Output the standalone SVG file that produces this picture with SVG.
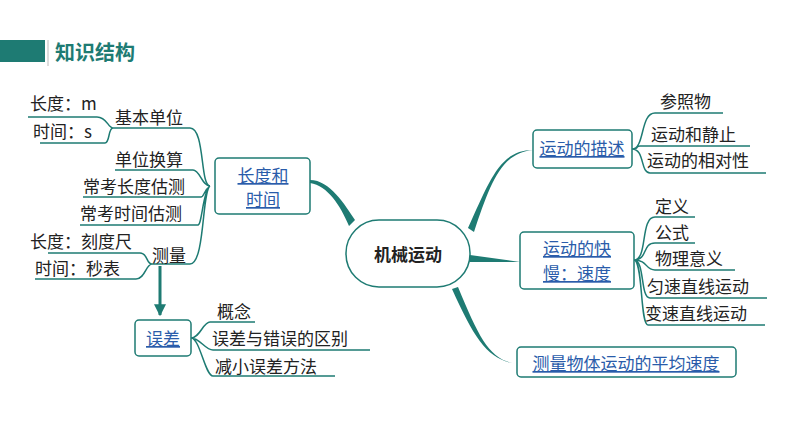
<svg xmlns="http://www.w3.org/2000/svg" width="794" height="447" viewBox="0 0 794 447">
<style>
.t{font-family:"Noto Sans CJK SC","Liberation Sans",sans-serif;font-size:17px;fill:#222}
.l{font-family:"Noto Sans CJK SC","Liberation Sans",sans-serif;font-size:17px;fill:#2a5caa;text-decoration:underline}
.u{stroke:#1e7b73;stroke-width:1.5;fill:none}
.b{stroke:#1e7b73;stroke-width:1.5;fill:#fff}
.m{fill:#1e7b73}
</style>
<defs><marker id="ar" viewBox="0 0 10 10" refX="9" refY="5" markerWidth="4" markerHeight="4" orient="auto"><path d="M0,0L10,5L0,10z" fill="#1e7b73"/></marker></defs>
<rect x="0" y="40" width="45" height="22" fill="#1e7b73"/>
<line x1="48" y1="40" x2="48" y2="66" stroke="#ddd" stroke-width="2"/>
<text x="55" y="60" font-family="Noto Sans CJK SC,sans-serif" font-size="20" font-weight="bold" fill="#1e7b73">知识结构</text>
<g id="connectors">
<path class="m" d="M310,180 C330,180 345,205 355,220 L349,226 C340,205 328,186 310,183z"/>
<path class="m" d="M468,228 C490,180 500,150 533,150 C500,153 490,185 474,232z"/>
<path class="m" d="M470,255 L520,262 L470,262z"/>
<path class="m" d="M458,287 C480,340 490,360 517,364 C488,360 475,340 452,289z"/>
<path class="u" d="M210,186 C200,186 205,128 190,128 L113,128 M113,128 C108,128 110,143 105,143 L40,143 M113,128 C108,128 107,117 97,117 L28,117"/>
<path class="u" d="M210,186 C202,186 200,170 193,170 L115,170 M210,186 C204,190 204,197 201,197 L83,197 M210,186 C203,190 202,225 198,225 L80,225 M210,186 C202,190 205,264 190,264 L152,264 M152,264 C146,264 148,253 140,253 L48,253 M152,264 C146,264 145,279 136,279 L35,279"/>
<line x1="160" y1="266" x2="160" y2="315" stroke="#1e7b73" stroke-width="3" marker-end="url(#ar)"/>
<path class="u" d="M191,338 C200,338 203,322 210,322 L255,322 M191,338 C200,338 205,350 213,350 L370,350 M191,338 C200,338 205,376 213,376 L335,376"/>
<path class="u" d="M632,149 C645,149 640,113 655,113 L723,113 M632,149 C640,149 635,146 640,146 L750,146 M632,149 C645,149 640,173 650,173 L766,173"/>
<path class="u" d="M634,260 C648,260 640,217 655,217 L695,217 M634,260 C648,260 642,243 655,243 L695,243 M634,260 C648,260 645,270 655,270 L735,270 M634,260 C645,260 640,298 650,298 L767,298 M634,260 C643,260 640,325 648,325 L765,325"/>
</g>
<g id="center"><rect x="346" y="220" width="124" height="67" rx="33" class="b" stroke-width="2"/><text x="408" y="261" class="t" font-weight="bold" text-anchor="middle">机械运动</text></g>
<g id="len"><rect x="215" y="158" width="95" height="56" rx="4" class="b"/><text x="263" y="182" class="l" text-anchor="middle">长度和</text><text x="263" y="206" class="l" text-anchor="middle">时间</text></g>
<g id="err"><rect x="135" y="320" width="56" height="36" rx="4" class="b"/><text x="163" y="345" class="l" text-anchor="middle">误差</text></g>
<g id="desc"><rect x="533" y="130" width="99" height="38" rx="4" class="b"/><text x="582" y="155" class="l" text-anchor="middle">运动的描述</text></g>
<g id="speed"><rect x="520" y="232" width="114" height="57" rx="4" class="b"/><text x="577" y="255" class="l" text-anchor="middle">运动的快</text><text x="577" y="280" class="l" text-anchor="middle">慢：速度</text></g>
<g id="avg"><rect x="517" y="347" width="219" height="30" rx="4" class="b"/><text x="626" y="370" class="l" text-anchor="middle">测量物体运动的平均速度</text></g>
<g id="leaves">
<text x="30" y="110" class="t">长度：m</text>
<text x="33" y="138" class="t">时间：s</text>
<text x="115" y="124" class="t">基本单位</text>
<text x="115" y="166" class="t">单位换算</text>
<text x="83" y="193" class="t">常考长度估测</text>
<text x="80" y="220" class="t">常考时间估测</text>
<text x="30" y="248" class="t">长度：刻度尺</text>
<text x="35" y="275" class="t">时间：秒表</text>
<text x="152" y="262" class="t">测量</text>
<text x="217" y="318" class="t">概念</text>
<text x="212" y="345" class="t">误差与错误的区别</text>
<text x="215" y="373" class="t">减小误差方法</text>
<text x="660" y="108" class="t">参照物</text>
<text x="651" y="141" class="t">运动和静止</text>
<text x="647" y="167" class="t">运动的相对性</text>
<text x="655" y="213" class="t">定义</text>
<text x="655" y="239" class="t">公式</text>
<text x="655" y="265" class="t">物理意义</text>
<text x="647" y="293" class="t">匀速直线运动</text>
<text x="645" y="320" class="t">变速直线运动</text>
</g>
</svg>
